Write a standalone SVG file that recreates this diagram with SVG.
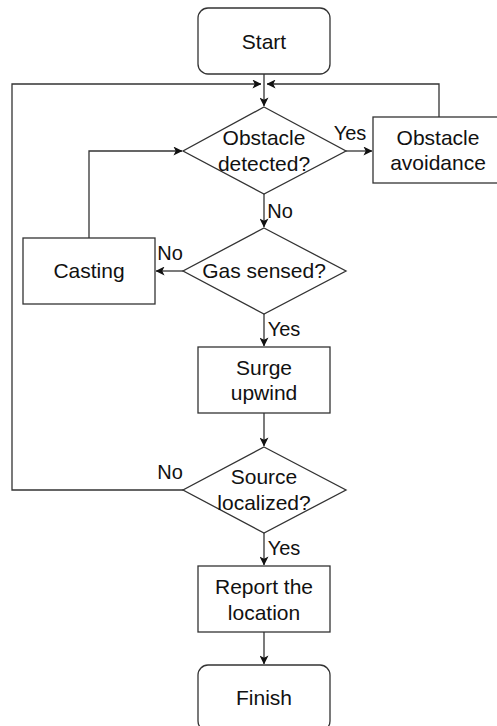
<svg xmlns="http://www.w3.org/2000/svg" width="497" height="726" viewBox="0 0 497 726">
<style>
.n{fill:#fff;stroke:#333;stroke-width:1.3}
.c{fill:none;stroke:#333;stroke-width:1.3}
text{font-family:"Liberation Sans",Arial,sans-serif;fill:#111;text-anchor:middle}
.t{font-size:21px}
.l{font-size:20px}
</style>
<defs>
<marker id="a" viewBox="0 0 10 10" refX="9.5" refY="5" markerWidth="9" markerHeight="9" markerUnits="userSpaceOnUse" orient="auto">
<path d="M0,0 L10,5 L0,10 L2.5,5 Z" fill="#111"/>
</marker>
</defs>
<g id="connectors">
<path class="c" d="M264,74 V106" marker-end="url(#a)"/>
<path class="c" d="M183,490 H12 V84 H261" marker-end="url(#a)"/>
<path class="c" d="M439,117 V84 H267" marker-end="url(#a)"/>
<path class="c" d="M346,151 H372" marker-end="url(#a)"/>
<path class="c" d="M89,238 V151 H182" marker-end="url(#a)"/>
<path class="c" d="M264,194 V227" marker-end="url(#a)"/>
<path class="c" d="M183,271 H156" marker-end="url(#a)"/>
<path class="c" d="M264,314 V346" marker-end="url(#a)"/>
<path class="c" d="M264,413 V446" marker-end="url(#a)"/>
<path class="c" d="M264,533 V565" marker-end="url(#a)"/>
<path class="c" d="M264,632 V664" marker-end="url(#a)"/>
<text class="l" x="350" y="140">Yes</text>
<text class="l" x="280" y="218">No</text>
<text class="l" x="170" y="260">No</text>
<text class="l" x="284" y="336">Yes</text>
<text class="l" x="170" y="479">No</text>
<text class="l" x="284" y="555">Yes</text>
</g>
<g id="start">
<rect class="n" x="198" y="8" width="132" height="66" rx="10"/>
<text class="t" x="264" y="49">Start</text>
</g>
<g id="obstacle-detected">
<polygon class="n" points="264,107 346,151 264,194 183,151"/>
<text class="t" x="264" y="145">Obstacle</text>
<text class="t" x="264" y="171">detected?</text>
</g>
<g id="obstacle-avoidance">
<rect class="n" x="373" y="117" width="132" height="66"/>
<text class="t" x="438" y="145">Obstacle</text>
<text class="t" x="438" y="170">avoidance</text>
</g>
<g id="gas-sensed">
<polygon class="n" points="264,228 346,271 264,314 183,271"/>
<text class="t" x="264" y="278">Gas sensed?</text>
</g>
<g id="casting">
<rect class="n" x="23" y="238" width="132" height="66"/>
<text class="t" x="89" y="278">Casting</text>
</g>
<g id="surge-upwind">
<rect class="n" x="198" y="347" width="132" height="66"/>
<text class="t" x="264" y="375">Surge</text>
<text class="t" x="264" y="400">upwind</text>
</g>
<g id="source-localized">
<polygon class="n" points="264,447 346,490 264,533 183,490"/>
<text class="t" x="264" y="484">Source</text>
<text class="t" x="264" y="510">localized?</text>
</g>
<g id="report-location">
<rect class="n" x="198" y="566" width="132" height="66"/>
<text class="t" x="264" y="594">Report the</text>
<text class="t" x="264" y="620">location</text>
</g>
<g id="finish">
<rect class="n" x="198" y="665" width="132" height="66" rx="10"/>
<text class="t" x="264" y="705">Finish</text>
</g>
</svg>
